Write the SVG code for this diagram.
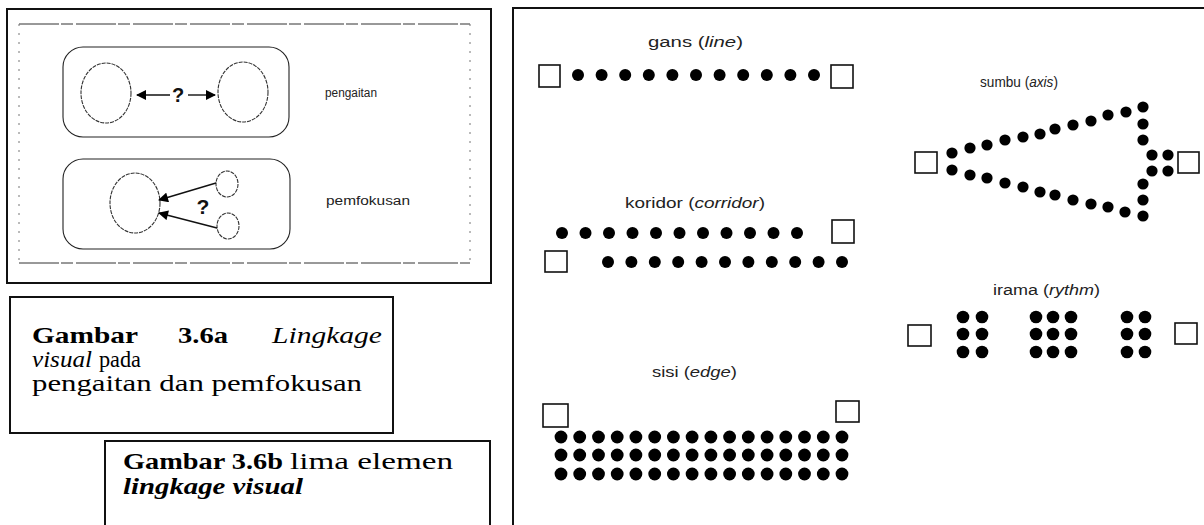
<svg xmlns="http://www.w3.org/2000/svg" width="1204" height="525" viewBox="0 0 1204 525">
<style>
.frame{fill:none;stroke:#111;stroke-width:2}
.rr{fill:none;stroke:#222;stroke-width:1.1}
.el{fill:none;stroke:#333;stroke-width:1.1;stroke-dasharray:4 1}
.conn{fill:none;stroke:#111;stroke-width:1.4}
.sq{fill:#fff;stroke:#111;stroke-width:1.6}
.dot{fill:#000}
.lab{font-family:"Liberation Sans",Arial,sans-serif;font-size:14px;fill:#222}
.sm{font-family:"Liberation Sans",Arial,sans-serif;font-size:12px;fill:#222}
.q{font-family:"Liberation Sans",Arial,sans-serif;font-weight:bold;fill:#111}
.cap{font-family:"Liberation Serif","Times New Roman",serif;font-size:23px;fill:#000}
.b{font-weight:bold}
.i{font-style:italic}
</style>
<defs>
<marker id="ah" viewBox="0 0 10 10" refX="9" refY="5" markerWidth="12" markerHeight="10" markerUnits="userSpaceOnUse" orient="auto">
<path d="M0,0 L10,5 L0,10 z" fill="#000"/>
</marker>
</defs>
<rect width="1204" height="525" fill="#fff"/>

<g id="panel-a">
<rect class="frame" x="7" y="9" width="484" height="274"/>
<line x1="19" y1="24" x2="470" y2="24" stroke="#333" stroke-width="1" stroke-dasharray="40 2 12 3"/>
<line x1="19" y1="263" x2="470" y2="263" stroke="#333" stroke-width="1" stroke-dasharray="40 2 12 3"/>
<line x1="19" y1="24" x2="19" y2="263" stroke="#777" stroke-width="1" stroke-dasharray="2 7"/>
<line x1="470" y1="24" x2="470" y2="263" stroke="#777" stroke-width="1" stroke-dasharray="2 7"/>
</g>

<g id="node-pengaitan">
<rect class="rr" x="63" y="47" width="226" height="90" rx="20"/>
<ellipse class="el" cx="106" cy="93" rx="25" ry="30"/>
<ellipse class="el" cx="243" cy="92" rx="25" ry="30"/>
<text class="q" x="178" y="102" font-size="20" text-anchor="middle">?</text>
<text class="sm" x="325" y="97" textLength="52" lengthAdjust="spacingAndGlyphs">pengaitan</text>
</g>

<g id="node-pemfokusan">
<rect class="rr" x="63" y="159" width="227" height="90" rx="20"/>
<ellipse class="el" cx="135" cy="203" rx="25" ry="30"/>
<ellipse class="el" cx="227" cy="184" rx="11" ry="13"/>
<ellipse class="el" cx="228" cy="226" rx="11" ry="13"/>
<text class="q" x="203" y="214" font-size="21" text-anchor="middle">?</text>
<text class="sm" x="326" y="205" textLength="84" lengthAdjust="spacingAndGlyphs">pemfokusan</text>
</g>

<g id="connectors">
<line class="conn" x1="170" y1="95" x2="137" y2="95" marker-end="url(#ah)"/>
<line class="conn" x1="188" y1="95" x2="215" y2="95" marker-end="url(#ah)"/>
<line class="conn" x1="216" y1="183" x2="159" y2="200" marker-end="url(#ah)"/>
<line class="conn" x1="217" y1="228" x2="159" y2="213" marker-end="url(#ah)"/>
</g>

<g id="caption-a">
<rect class="frame" x="10" y="297" width="383" height="136"/>
<text class="cap b" x="32" y="343" textLength="106" lengthAdjust="spacingAndGlyphs">Gambar</text>
<text class="cap b" x="178" y="343" textLength="50" lengthAdjust="spacingAndGlyphs">3.6a</text>
<text class="cap i" x="272" y="343" textLength="110" lengthAdjust="spacingAndGlyphs">Lingkage</text>
<text class="cap i" x="32" y="367" textLength="60" lengthAdjust="spacingAndGlyphs">visual</text>
<text class="cap" x="99" y="367" textLength="42" lengthAdjust="spacingAndGlyphs">pada</text>
<text class="cap" x="32" y="391" textLength="330" lengthAdjust="spacingAndGlyphs">pengaitan dan pemfokusan</text>
</g>

<g id="caption-b">
<path class="frame" d="M105,530 V441 H490 V530"/>
<text class="cap b" x="123" y="469" textLength="160" lengthAdjust="spacingAndGlyphs">Gambar 3.6b</text>
<text class="cap" x="290" y="469" textLength="163" lengthAdjust="spacingAndGlyphs">lima elemen</text>
<text class="cap b i" x="123" y="494" textLength="180" lengthAdjust="spacingAndGlyphs">lingkage visual</text>
</g>

<g id="panel-b">
<path class="frame" d="M513,530 V8 H1210"/>
</g>

<g id="node-gans">
<text class="lab" x="648" y="47" textLength="95" lengthAdjust="spacingAndGlyphs">gans (<tspan class="i">line</tspan>)</text>
<rect class="sq" x="539" y="65" width="21" height="22"/>
<rect class="sq" x="831" y="65" width="22" height="23"/>
<g class="dot">
<circle cx="578" cy="75" r="6"/><circle cx="601.6" cy="75" r="6"/><circle cx="625.2" cy="75" r="6"/><circle cx="648.8" cy="75" r="6"/><circle cx="672.4" cy="75" r="6"/><circle cx="696" cy="75" r="6"/><circle cx="719.6" cy="75" r="6"/><circle cx="743.2" cy="75" r="6"/><circle cx="766.8" cy="75" r="6"/><circle cx="790.4" cy="75" r="6"/><circle cx="814" cy="75" r="6"/>
</g>
</g>

<g id="node-sumbu">
<text class="lab" x="980" y="87" textLength="78" lengthAdjust="spacingAndGlyphs">sumbu (<tspan class="i">axis</tspan>)</text>
<rect class="sq" x="915" y="152" width="22" height="21"/>
<rect class="sq" x="1178" y="152" width="21" height="21"/>
<g class="dot">
<circle cx="952" cy="153" r="5.6"/><circle cx="970" cy="148" r="5.6"/><circle cx="987" cy="145" r="5.6"/><circle cx="1005" cy="140" r="5.6"/><circle cx="1023" cy="137" r="5.6"/><circle cx="1040" cy="134" r="5.6"/><circle cx="1055" cy="129" r="5.6"/><circle cx="1073" cy="125" r="5.6"/><circle cx="1091" cy="121" r="5.6"/><circle cx="1108" cy="115" r="5.6"/><circle cx="1126" cy="112" r="5.6"/>
<circle cx="952" cy="170" r="5.6"/><circle cx="970" cy="175" r="5.6"/><circle cx="987" cy="178" r="5.6"/><circle cx="1005" cy="183" r="5.6"/><circle cx="1023" cy="187" r="5.6"/><circle cx="1040" cy="192" r="5.6"/><circle cx="1055" cy="195" r="5.6"/><circle cx="1073" cy="200" r="5.6"/><circle cx="1091" cy="204" r="5.6"/><circle cx="1108" cy="207" r="5.6"/><circle cx="1125" cy="212" r="5.6"/>
<circle cx="1143" cy="107" r="5.6"/><circle cx="1143" cy="124" r="5.6"/><circle cx="1143" cy="140" r="5.6"/>
<circle cx="1152" cy="155" r="5.6"/><circle cx="1168" cy="155" r="5.6"/><circle cx="1152" cy="171" r="5.6"/><circle cx="1168" cy="171" r="5.6"/>
<circle cx="1143" cy="184" r="5.6"/><circle cx="1143" cy="200" r="5.6"/><circle cx="1143" cy="216" r="5.6"/>
</g>
</g>

<g id="node-koridor">
<text class="lab" x="625" y="208" textLength="140" lengthAdjust="spacingAndGlyphs">koridor (<tspan class="i">corridor</tspan>)</text>
<rect class="sq" x="832" y="220" width="22" height="23"/>
<rect class="sq" x="545" y="251" width="22" height="21"/>
<g class="dot">
<circle cx="562" cy="233" r="6"/><circle cx="585.5" cy="233" r="6"/><circle cx="609" cy="233" r="6"/><circle cx="632.5" cy="233" r="6"/><circle cx="656" cy="233" r="6"/><circle cx="679.5" cy="233" r="6"/><circle cx="703" cy="233" r="6"/><circle cx="726.5" cy="233" r="6"/><circle cx="750" cy="233" r="6"/><circle cx="773.5" cy="233" r="6"/><circle cx="797" cy="233" r="6"/>
<circle cx="608" cy="262" r="6"/><circle cx="631.4" cy="262" r="6"/><circle cx="654.8" cy="262" r="6"/><circle cx="678.2" cy="262" r="6"/><circle cx="701.6" cy="262" r="6"/><circle cx="725" cy="262" r="6"/><circle cx="748.4" cy="262" r="6"/><circle cx="771.8" cy="262" r="6"/><circle cx="795.2" cy="262" r="6"/><circle cx="818.6" cy="262" r="6"/><circle cx="842" cy="262" r="6"/>
</g>
</g>

<g id="node-irama">
<text class="lab" x="993" y="295" textLength="107" lengthAdjust="spacingAndGlyphs">irama (<tspan class="i">rythm</tspan>)</text>
<rect class="sq" x="908" y="325" width="23" height="21"/>
<rect class="sq" x="1175" y="323" width="22" height="21"/>
<g class="dot">
<circle cx="963" cy="317" r="6.3"/><circle cx="982" cy="317" r="6.3"/><circle cx="963" cy="334" r="6.3"/><circle cx="982" cy="334" r="6.3"/><circle cx="963" cy="352" r="6.3"/><circle cx="982" cy="352" r="6.3"/>
<circle cx="1036" cy="317" r="6.3"/><circle cx="1053" cy="317" r="6.3"/><circle cx="1071" cy="317" r="6.3"/><circle cx="1036" cy="334" r="6.3"/><circle cx="1053" cy="334" r="6.3"/><circle cx="1071" cy="334" r="6.3"/><circle cx="1036" cy="352" r="6.3"/><circle cx="1053" cy="352" r="6.3"/><circle cx="1071" cy="352" r="6.3"/>
<circle cx="1127" cy="317" r="6.3"/><circle cx="1145" cy="317" r="6.3"/><circle cx="1127" cy="334" r="6.3"/><circle cx="1145" cy="334" r="6.3"/><circle cx="1127" cy="352" r="6.3"/><circle cx="1145" cy="352" r="6.3"/>
</g>
</g>

<g id="node-sisi">
<text class="lab" x="652" y="377" textLength="85" lengthAdjust="spacingAndGlyphs">sisi (<tspan class="i">edge</tspan>)</text>
<rect class="sq" x="543" y="404" width="25" height="23"/>
<rect class="sq" x="836" y="401" width="23" height="21"/>
<g class="dot">
<circle cx="561" cy="437" r="6.4"/><circle cx="579.7" cy="437" r="6.4"/><circle cx="598.5" cy="437" r="6.4"/><circle cx="617.2" cy="437" r="6.4"/><circle cx="635.9" cy="437" r="6.4"/><circle cx="654.7" cy="437" r="6.4"/><circle cx="673.4" cy="437" r="6.4"/><circle cx="692.1" cy="437" r="6.4"/><circle cx="710.9" cy="437" r="6.4"/><circle cx="729.6" cy="437" r="6.4"/><circle cx="748.3" cy="437" r="6.4"/><circle cx="767.1" cy="437" r="6.4"/><circle cx="785.8" cy="437" r="6.4"/><circle cx="804.5" cy="437" r="6.4"/><circle cx="823.3" cy="437" r="6.4"/><circle cx="842" cy="437" r="6.4"/>
<circle cx="561" cy="455" r="6.4"/><circle cx="579.7" cy="455" r="6.4"/><circle cx="598.5" cy="455" r="6.4"/><circle cx="617.2" cy="455" r="6.4"/><circle cx="635.9" cy="455" r="6.4"/><circle cx="654.7" cy="455" r="6.4"/><circle cx="673.4" cy="455" r="6.4"/><circle cx="692.1" cy="455" r="6.4"/><circle cx="710.9" cy="455" r="6.4"/><circle cx="729.6" cy="455" r="6.4"/><circle cx="748.3" cy="455" r="6.4"/><circle cx="767.1" cy="455" r="6.4"/><circle cx="785.8" cy="455" r="6.4"/><circle cx="804.5" cy="455" r="6.4"/><circle cx="823.3" cy="455" r="6.4"/><circle cx="842" cy="455" r="6.4"/>
<circle cx="561" cy="474" r="6.4"/><circle cx="579.7" cy="474" r="6.4"/><circle cx="598.5" cy="474" r="6.4"/><circle cx="617.2" cy="474" r="6.4"/><circle cx="635.9" cy="474" r="6.4"/><circle cx="654.7" cy="474" r="6.4"/><circle cx="673.4" cy="474" r="6.4"/><circle cx="692.1" cy="474" r="6.4"/><circle cx="710.9" cy="474" r="6.4"/><circle cx="729.6" cy="474" r="6.4"/><circle cx="748.3" cy="474" r="6.4"/><circle cx="767.1" cy="474" r="6.4"/><circle cx="785.8" cy="474" r="6.4"/><circle cx="804.5" cy="474" r="6.4"/><circle cx="823.3" cy="474" r="6.4"/><circle cx="842" cy="474" r="6.4"/>
</g>
</g>
</svg>
